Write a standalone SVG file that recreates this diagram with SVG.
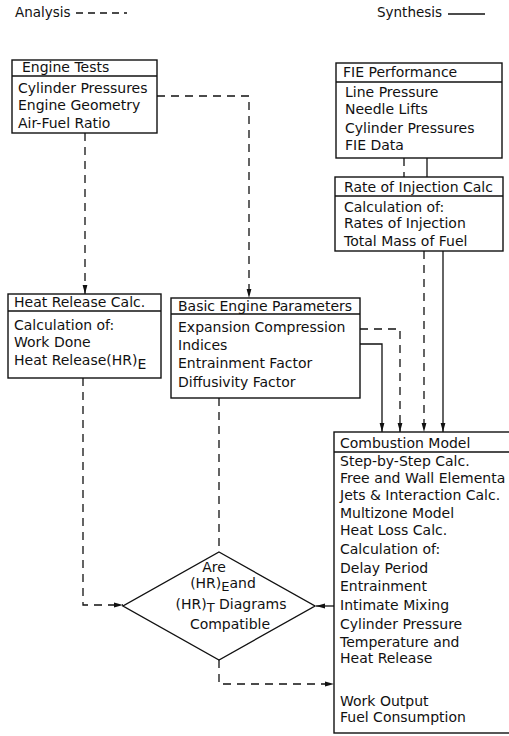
<svg xmlns="http://www.w3.org/2000/svg" width="509" height="736" viewBox="0 0 509 736">
<style>
text{font-family:"DejaVu Sans","Liberation Sans",sans-serif;font-size:14px;fill:#111}
.box{fill:#fff;stroke:#111;stroke-width:1.4}
.sep{stroke:#111;stroke-width:1.4}
.solid{fill:none;stroke:#111;stroke-width:1.3}
.dash{fill:none;stroke:#111;stroke-width:1.3;stroke-dasharray:8,6}
.leg{font-size:13.5px}
.sub{font-size:13px}
</style>
<defs>
<marker id="ah" markerUnits="userSpaceOnUse" markerWidth="9" markerHeight="6" refX="9" refY="3" orient="auto">
<path d="M0,0.6 L9,3 L0,5.4 z" fill="#111"/>
</marker>
</defs>
<rect width="509" height="736" fill="#fff"/>
<g id="legend">
<text class="leg" x="15" y="17">Analysis</text>
<line class="solid" x1="76" y1="13" x2="127" y2="13" stroke-dasharray="7,5"/>
<text class="leg" x="377" y="17">Synthesis</text>
<line class="solid" x1="448" y1="14" x2="485" y2="14"/>
</g>
<g id="connectors">
<path class="dash" d="M85,133 V294" marker-end="url(#ah)"/>
<path class="dash" d="M157,96 H249 V298" marker-end="url(#ah)"/>
<path class="dash" d="M404,158 V177"/>
<path class="solid" d="M427,158 V177"/>
<path class="dash" d="M424,251 V432" marker-end="url(#ah)"/>
<path class="solid" d="M443,251 V432" marker-end="url(#ah)"/>
<path class="dash" d="M360,329 H400 V432" marker-end="url(#ah)"/>
<path class="solid" d="M360,344 H382 V432" marker-end="url(#ah)"/>
<path class="dash" d="M219,398 V552"/>
<path class="dash" d="M83,378 V605 H123" marker-end="url(#ah)"/>
<path class="solid" d="M334,606 H316" marker-end="url(#ah)"/>
<path class="dash" d="M219,660 V684 H334" marker-end="url(#ah)"/>
</g>
<g id="engine-tests">
<rect class="box" x="12" y="60" width="145" height="73"/>
<line class="sep" x1="12" y1="76" x2="157" y2="76"/>
<text x="22" y="72">Engine Tests</text>
<text x="18" y="93">Cylinder Pressures</text>
<text x="18" y="110">Engine Geometry</text>
<text x="18" y="128">Air-Fuel Ratio</text>
</g>
<g id="fie-performance">
<rect class="box" x="336" y="63" width="166" height="95"/>
<line class="sep" x1="336" y1="82" x2="502" y2="82"/>
<text x="343" y="77">FIE Performance</text>
<text x="345" y="97">Line Pressure</text>
<text x="345" y="114">Needle Lifts</text>
<text x="345" y="133">Cylinder Pressures</text>
<text x="345" y="150">FIE Data</text>
</g>
<g id="rate-of-injection">
<rect class="box" x="335" y="177" width="168" height="74"/>
<line class="sep" x1="335" y1="196" x2="503" y2="196"/>
<text x="344" y="192">Rate of Injection Calc</text>
<text x="344" y="212">Calculation of:</text>
<text x="344" y="228">Rates of Injection</text>
<text x="344" y="246">Total Mass of Fuel</text>
</g>
<g id="heat-release">
<rect class="box" x="8" y="294" width="153" height="84"/>
<line class="sep" x1="8" y1="311" x2="161" y2="311"/>
<text x="14" y="307">Heat Release Calc.</text>
<text x="14" y="330">Calculation of:</text>
<text x="14" y="347">Work Done</text>
<text x="14" y="365">Heat Release(HR)<tspan dy="4">E</tspan></text>
</g>
<g id="basic-engine-parameters">
<rect class="box" x="171" y="298" width="189" height="100"/>
<line class="sep" x1="171" y1="314" x2="360" y2="314"/>
<text x="178" y="311">Basic Engine Parameters</text>
<text x="178" y="332">Expansion Compression</text>
<text x="178" y="350">Indices</text>
<text x="178" y="368">Entrainment Factor</text>
<text x="178" y="387">Diffusivity Factor</text>
</g>
<g id="combustion-model">
<rect class="box" x="334" y="432" width="185" height="301"/>
<line class="sep" x1="334" y1="452" x2="519" y2="452"/>
<text x="340" y="448">Combustion Model</text>
<text x="340" y="466">Step-by-Step Calc.</text>
<text x="340" y="483">Free and Wall Elementa</text>
<text x="340" y="500">Jets &amp; Interaction Calc.</text>
<text x="340" y="518">Multizone Model</text>
<text x="340" y="535">Heat Loss Calc.</text>
<text x="340" y="554">Calculation of:</text>
<text x="340" y="573">Delay Period</text>
<text x="340" y="591">Entrainment</text>
<text x="340" y="610">Intimate Mixing</text>
<text x="340" y="629">Cylinder Pressure</text>
<text x="340" y="647">Temperature and</text>
<text x="340" y="663">Heat Release</text>
<text x="340" y="706">Work Output</text>
<text x="340" y="722">Fuel Consumption</text>
</g>
<g id="decision">
<path class="box" d="M219,552 L315,606 L219,660 L123,606 Z"/>
<text x="214" y="572" text-anchor="middle">Are</text>
<text x="223" y="588" text-anchor="middle">(HR)<tspan class="sub" dy="3">E</tspan><tspan dy="-3">and</tspan></text>
<text x="231" y="609" text-anchor="middle">(HR)<tspan class="sub" dy="3">T</tspan><tspan dy="-3"> Diagrams</tspan></text>
<text x="230" y="629" text-anchor="middle">Compatible</text>
</g>
</svg>
